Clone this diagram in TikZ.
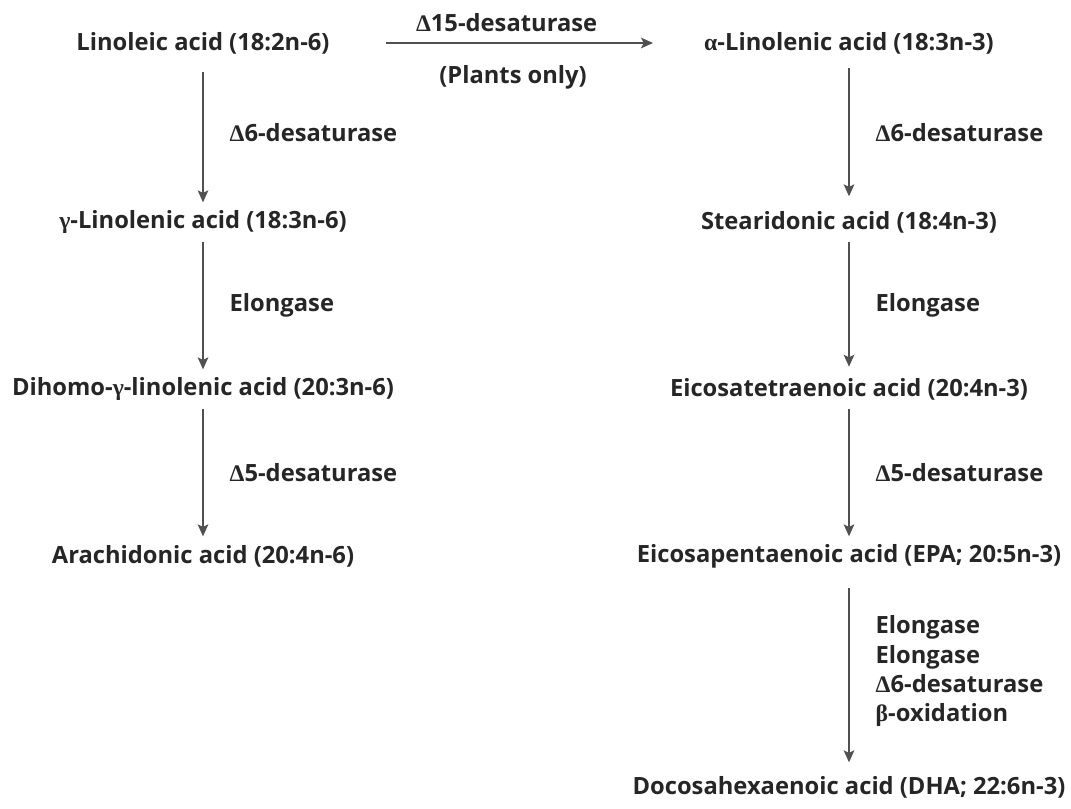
\documentclass[tikz,border=0pt]{standalone}
\usepackage{fontspec}
\setmainfont{Open Sans}
\newfontfamily\symbfont{Liberation Serif}
\newcommand{\gk}[1]{{\symbfont\bfseries #1}}
\definecolor{acidgray}{RGB}{38,38,38}
\definecolor{arrowgray}{RGB}{80,80,80}
\usepackage{tikz}
\usetikzlibrary{arrows.meta}

\begin{document}
\begin{tikzpicture}[x=0.75pt,y=-0.75pt,->,>={Stealth[length=9pt,width=8pt,inset=2pt]},
                    shorten >=0pt,node distance=125.25pt,line width=1pt,
                    font=\fontsize{17.8}{22}\selectfont\bfseries]
      \tikzstyle{acid}=[text=acidgray,inner sep=0pt,minimum height=28.5pt]
      \tikzstyle{enzyme}=[right,text=acidgray,inner sep=0pt,xshift=19.5pt,align=left]
      \useasboundingbox (0,0) rectangle (1071,809);

      % omega-6 pathway
      \node[acid] (LA) at (203,43) {Linoleic acid (18:2n-6)};
      \node[acid] (GLA) [below of=LA,yshift=-9pt] {\gk{γ}-Linolenic acid (18:3n-6)};
      \node[acid] (DGLA) [below of=GLA] {Dihomo-\gk{γ}-linolenic acid (20:3n-6)};
      \node[acid] (AA) [below of=DGLA] {Arachidonic acid (20:4n-6)};

      % omega-3 pathway
      \node[acid] (ALA) at (849,43) {\gk{α}-Linolenic acid (18:3n-3)};
      \node[acid] (SDA) [below of=ALA,yshift=-9pt] {Stearidonic acid (18:4n-3)};
      \node[acid] (ETA) [below of=SDA] {Eicosatetraenoic acid (20:4n-3)};
      \node[acid] (EPA) [below of=ETA] {Eicosapentaenoic acid (EPA; 20:5n-3)};
      \node[acid] (DHA) [below of=EPA,yshift=-48pt] {Docosahexaenoic acid (DHA; 22:6n-3)};

      \path[arrowgray]
            (LA.center) edge[shorten <=137.25pt,shorten >=147pt]
                   node[above,pos=0.47,text=acidgray,yshift=4.5pt] {\gk{Δ}15-desaturase}
                   node[below,pos=0.48,text=acidgray,yshift=-13pt] {(Plants only)} (ALA.center)
            (LA) edge[shorten <=6.75pt] node[enzyme] {\gk{Δ}6-desaturase} (GLA)
            (GLA) edge node[enzyme] {Elongase} (DGLA)
            (DGLA) edge node[enzyme] {\gk{Δ}5-desaturase} (AA)
            (ALA) edge[shorten <=3.75pt,shorten >=4.5pt] node[enzyme] {\gk{Δ}6-desaturase} (SDA)
            (SDA) edge[shorten >=2pt] node[enzyme] {Elongase} (ETA)
            (ETA) edge node[enzyme] {\gk{Δ}5-desaturase} (EPA)
            (EPA) edge[shorten <=9pt,shorten >=3.75pt]
                   node[enzyme] {Elongase\\Elongase\\\gk{Δ}6-desaturase\\\gk{β}-oxidation} (DHA);

  \end{tikzpicture}
\end{document}
